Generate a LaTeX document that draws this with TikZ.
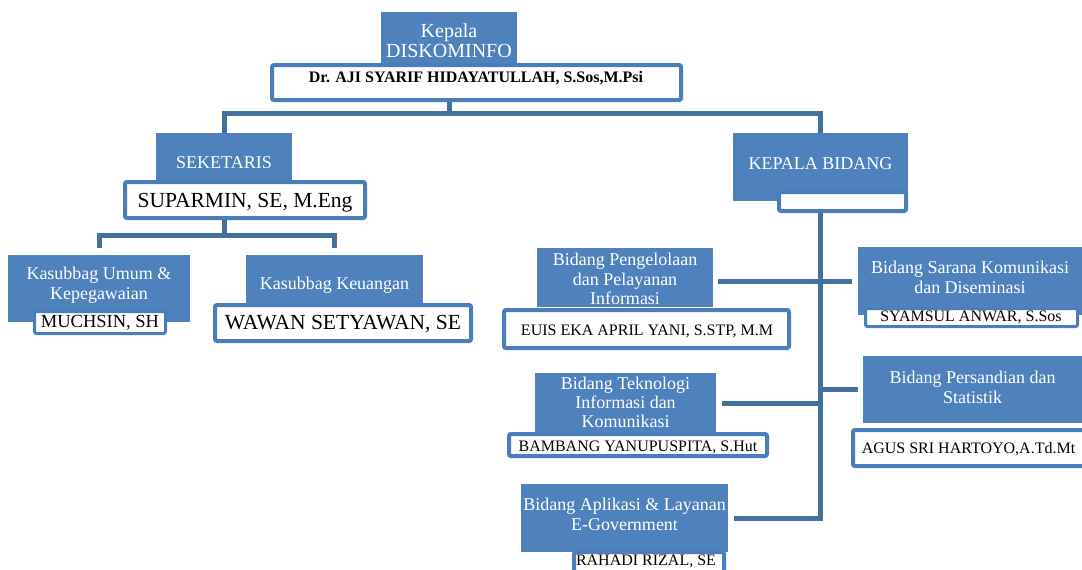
\documentclass[tikz,border=0pt]{standalone}
\usepackage{fontspec}
\setmainfont{Liberation Serif}
\definecolor{bfill}{HTML}{4F81BD}
\definecolor{bline}{HTML}{41719C}
\definecolor{bedge}{HTML}{4A7EBB}
\tikzset{
 bluebox/.style={fill=bfill, draw=none, inner sep=0pt},
 namebox/.style={fill=white, draw=bedge, line width=4pt, rounded corners=2pt, inner sep=0pt},
 thinname/.style={namebox, line width=3pt},
 btext/.style={text=white, align=center, inner sep=0pt, font=\fontsize{18}{20}\selectfont},
 ntext/.style={text=black, inner sep=0pt, font=\fontsize{16}{18}\selectfont},
 bigtext/.style={text=black, inner sep=0pt, font=\fontsize{21.5}{24}\selectfont},
 conn/.style={draw=bline, line width=5pt},
}
\begin{document}
\begin{tikzpicture}[x=1pt,y=-1pt]
\useasboundingbox (0,0) rectangle (1082,570);
\fill[white] (0,0) rectangle (1082,570);

\coordinate (busy) at (0,113);
\coordinate (suby) at (0,235);

% ---- blue boxes
\node[bluebox, minimum width=136pt, minimum height=51pt] (kep) at (449,37.5) {};
\node[bluebox, minimum width=136pt, minimum height=49pt] (sek) at (224,157.5) {};
\node[bluebox, minimum width=182pt, minimum height=67pt] (umum) at (99,288.5) {};
\node[bluebox, minimum width=177pt, minimum height=52pt] (keu) at (334.5,281) {};
\node[bluebox, minimum width=175pt, minimum height=68pt] (kb) at (820.5,167) {};
\node[bluebox, minimum width=176pt, minimum height=59pt] (peng) at (625,277.5) {};
\node[bluebox, minimum width=224pt, minimum height=68pt] (sar) at (970,281) {};
\node[bluebox, minimum width=181pt, minimum height=60pt] (tek) at (625.5,403) {};
\node[bluebox, minimum width=219pt, minimum height=67pt] (pers) at (972.5,389.5) {};
\node[bluebox, minimum width=207pt, minimum height=68pt] (apl) at (624.5,518) {};

% ---- name boxes
\node[namebox, minimum width=409pt, minimum height=35pt] (kepname) at (476.5,82.5) {};
\node[namebox, minimum width=240pt, minimum height=36pt] (supname) at (245,200) {};
\node[thinname, minimum width=131pt, minimum height=22pt] (muchname) at (100,322.5) {};
\node[namebox, minimum width=256pt, minimum height=36pt] (wawname) at (343,323) {};
\node[namebox, minimum width=127pt, minimum height=19pt] (kbname) at (842.5,201.5) {};
\node[namebox, minimum width=285pt, minimum height=38pt] (euisname) at (646.5,329) {};
\node[thinname, minimum width=212pt, minimum height=18pt] (syamname) at (971.5,317.5) {};
\node[namebox, minimum width=258pt, minimum height=22pt] (bambname) at (638,445) {};
\node[namebox, minimum width=235pt, minimum height=36pt] (agusname) at (970.5,448) {};
\node[namebox, minimum width=150pt, minimum height=21pt] (rahname) at (649,562.5) {};

% ---- connectors
\draw[conn] (kepname.south -| kep) -- (kep |- busy);
\draw[conn] (sek.north) -- (sek |- busy) -- (kb |- busy) -- (kb.north);
\draw[conn] (supname.south -| sek) -- (sek |- suby);
\draw[conn, shorten <=7pt, shorten >=7pt] (umum.north) -- (umum |- suby) -- (keu |- suby) -- (keu.north);
\draw[conn, shorten >=6pt] (kbname.south -| kb) -- (kb |- apl) -- (apl.east);
\draw[conn, shorten <=5pt, shorten >=6pt] (peng.east |- sar.west) -- (sar.west);
\draw[conn, shorten <=6pt] (tek.east) -- (tek.east -| kb);
\draw[conn, shorten >=5pt] (pers.west -| kb) -- (pers.west);

% ---- texts in blue boxes
\node[btext, font=\fontsize{20}{20}\selectfont] (kepT) at (449,41) {Kepala\\DISKOMINFO};
\node[btext] (sekT) at (224,163) {SEKETARIS};
\node[btext] (umumT) at (99,285) {Kasubbag Umum \&\\Kepegawaian};
\node[btext] (keuT) at (334.5,285) {Kasubbag Keuangan};
\node[btext] (kbT) at (820.5,164) {KEPALA BIDANG};
\node[btext, font=\fontsize{18}{19.5}\selectfont] (pengT) at (625,279) {Bidang Pengelolaan\\dan Pelayanan\\Informasi};
\node[btext] (sarT) at (970,277) {Bidang Sarana Komunikasi\\dan Diseminasi};
\node[btext, font=\fontsize{18}{19}\selectfont] (tekT) at (625.5,402) {Bidang Teknologi\\Informasi dan\\Komunikasi};
\node[btext] (persT) at (972.5,387) {Bidang Persandian dan\\Statistik};
\node[btext] (aplT) at (624.5,514) {Bidang Aplikasi \& Layanan\\E-Government};

% ---- name texts
\node[text=black, inner sep=0pt, font=\bfseries\fontsize{16}{18}\selectfont] (kepnameT) at (476,78) {Dr. AJI SYARIF HIDAYATULLAH, S.Sos,M.Psi};
\node[bigtext] (supT) at (245,203) {SUPARMIN, SE, M.Eng};
\node[ntext, font=\fontsize{18.5}{20}\selectfont] (muchT) at (100,323) {MUCHSIN, SH};
\node[bigtext] (wawT) at (343,324) {WAWAN SETYAWAN, SE};
\node[ntext] (euisT) at (647,331) {EUIS EKA APRIL YANI, S.STP, M.M};
\node[ntext] (syamT) at (971,317) {SYAMSUL ANWAR, S.Sos};
\node[ntext] (bambT) at (638,447) {BAMBANG YANUPUSPITA, S.Hut};
\node[ntext] (agusT) at (968.5,449) {AGUS SRI HARTOYO,A.Td.Mt};
\node[ntext] (rahT) at (646,561) {RAHADI RIZAL, SE};
\end{tikzpicture}
\end{document}
